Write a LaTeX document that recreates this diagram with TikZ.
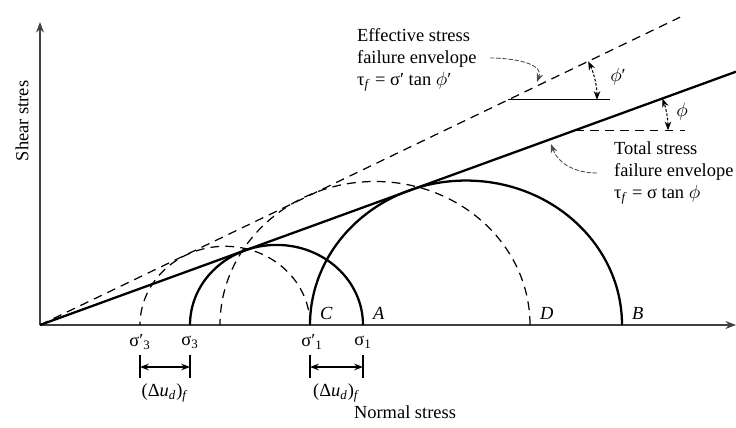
\documentclass[tikz,border=0pt]{standalone}
\usepackage{fontspec}
\setmainfont{Liberation Serif}
\usetikzlibrary{arrows.meta,calc}
\begin{document}
\begin{tikzpicture}[x=0.02cm,y=0.02cm,
  every node/.style={font=\fontsize{10.5}{12.5}\selectfont, inner sep=1pt},
  axis/.style={draw=black!75, line width=0.8pt},
  solidline/.style={line width=1.3pt},
  dashline/.style={line width=0.7pt, dash pattern=on 5pt off 3.5pt},
  callout/.style={draw=black!70, line width=0.5pt, dash pattern=on 2.5pt off 1pt, -{Stealth[length=5pt]}},
  anglemark/.style={line width=0.6pt, dash pattern=on 1.5pt off 1pt, {Stealth[length=5pt]}-{Stealth[length=5pt]}}]
\useasboundingbox (-40,-102) rectangle (696,325);
\coordinate (O) at (0,0);
\coordinate (xend) at (696,0);
\coordinate (yend) at (0,303);
\draw[axis, -{Stealth[length=6pt]}] (O) -- (xend);
\draw[axis, -{Stealth[length=6pt]}] (O) -- (yend);
\node[rotate=90] (ylab) at (-18,204) {Shear stres};
\node (xlab) at (365,-87) {Normal stress};
\foreach \cx/\r/\sty in {185/85/dashline, 335/155/dashline, 236.5/86.5/solidline, 426/156/solidline}
  \draw[\sty] (\cx+\r,0) arc[start angle=0, end angle=180, x radius=\r, y radius=0.926*\r];
\coordinate (effend) at (640,307.8);
\coordinate (totend) at (696,253.3);
\draw[dashline] (O) -- (effend);
\draw[solidline] (O) -- (totend);
\coordinate (effbase) at (468,225.1);
\coordinate (effref) at (570,225.1);
\draw[line width=0.6pt] (effbase) -- (effref);
\draw[anglemark] ($(effbase)+(89,0)$) arc[start angle=0, end angle=25.7, radius=89];
\node (phie) at (578,248) {$\phi$′};
\coordinate (totbase) at (535,194.7);
\coordinate (totref) at (645,194.7);
\draw[dashline, line width=0.6pt] (totbase) -- (totref);
\draw[anglemark] ($(totbase)+(93,0)$) arc[start angle=0, end angle=20, radius=93];
\node (phit) at (642,213) {$\phi$};
\foreach \n/\px/\txt in {s3e/100/σ′\textsubscript{3}, s3/150/σ\textsubscript{3}, s1e/272/σ′\textsubscript{1}, s1/323/σ\textsubscript{1}}
  \node (\n) at (\px,-17) {\txt};
\foreach \a/\b/\n in {100/150/dua, 270/323/dub}{
  \coordinate (\n l) at (\a,-42);
  \coordinate (\n r) at (\b,-42);
  \draw[line width=0.6pt] ($(\n l)+(0,12)$) -- ($(\n l)+(0,-11)$) ($(\n r)+(0,12)$) -- ($(\n r)+(0,-11)$);
  \draw[line width=0.6pt, {Stealth[length=5pt]}-{Stealth[length=5pt]}] (\n l) -- (\n r);
  \node (\n) at ($(\n l)!0.5!(\n r)+(0,-26)$) {(Δ\textit{u}\textsubscript{\textit{d}})\textsubscript{\textit{f}}};
}
\foreach \n/\px in {C/270, A/323, D/490, B/582}
  \node[anchor=base west, font=\fontsize{10.5}{12}\selectfont\itshape] (lbl\n) at (\px+8,6) {\n};
\node[align=left, anchor=west] (efftxt) at (315,265) {Effective stress\\failure envelope\\τ\textsubscript{\textit{f}} = σ′ tan $\phi$′};
\node[align=left, anchor=west] (tottxt) at (572,152) {Total stress\\failure envelope\\τ\textsubscript{\textit{f}} = σ tan $\phi$};
\coordinate (effstart) at (450,267);
\coordinate (effpt) at (497,243);
\draw[callout] (effstart) to[out=0, in=70] (effpt);
\coordinate (totstart) at (557,152);
\coordinate (totpt) at (511,181);
\draw[callout] (totstart) to[out=180, in=-70] (totpt);
\end{tikzpicture}
\end{document}
